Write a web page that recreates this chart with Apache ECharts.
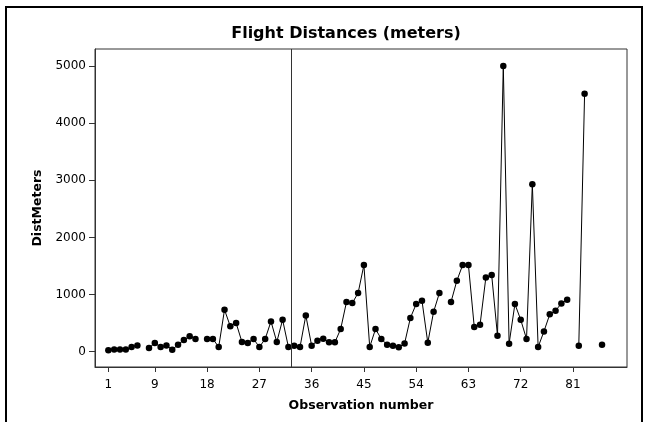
<!DOCTYPE html>
<html>
<head>
<meta charset="utf-8">
<script src="https://cdn.jsdelivr.net/npm/echarts@6/dist/echarts.min.js"></script>
<style>
  html, body { margin: 0; padding: 0; background: #fff; }
  #chart { width: 647px; height: 422px; }
</style>
</head>
<body>
<div id="chart"></div>
<script>
// observation numbers 1..86, null = missing value
const distMeters = [
  23, 40, 40, 40, 82, 110, null, 65, 152, 82,
  110, 35, 122, 204, 268, 222, null, 222, 222, 82,
  734, 443, 501, 170, 152, 222, 82, 222, 530, 170,
  559, 82, 105, 82, 635, 105, 192, 227, 163, 163,
  397, 869, 851, 1026, 1516, 82, 397, 222, 122, 105,
  78, 142, 590, 834, 892, 157, 697, 1028, null, 870,
  1241, 1516, 1516, 431, 472, 1299, 1343, 280, 5000, 140,
  834, 559, 222, 2932, 82, 355, 653, 717, 845, 909,
  null, 105, 4516, null, null, 122
];
const xTicks = [1, 9, 18, 27, 36, 45, 54, 63, 72, 81];
const yTicks = [0, 1000, 2000, 3000, 4000, 5000];
const refLineX = 32.5;

const points = distMeters.map((v, i) => [i + 1, v]);

const chart = echarts.init(document.getElementById('chart'));
const font = 'DejaVu Sans';

chart.setOption({
  animation: false,
  backgroundColor: '#fff',
  title: {
    text: 'Flight Distances (meters)',
    left: 341,
    textAlign: 'center',
    top: 21,
    textStyle: { fontFamily: font, fontSize: 16, fontWeight: 'bold', color: '#000' }
  },
  graphic: [{
    type: 'rect',
    shape: { x: 6, y: 7, width: 636, height: 440 },
    style: { fill: 'none', stroke: '#000', lineWidth: 2 }
  }],
  grid: {
    left: 95, right: 20, top: 49, bottom: 55,
    show: true, borderColor: '#333', borderWidth: 1
  },
  xAxis: {
    type: 'value',
    min: -1.3,
    max: 90.3,
    name: 'Observation number',
    nameLocation: 'middle',
    nameGap: 32,
    nameTextStyle: { fontFamily: font, fontSize: 12.5, fontWeight: 'bold', color: '#000' },
    axisLine: { show: true, onZero: false, lineStyle: { color: '#333' } },
    axisTick: { show: true, length: 5, customValues: xTicks, lineStyle: { color: '#333' } },
    axisLabel: { customValues: xTicks, fontFamily: font, fontSize: 12, color: '#000', margin: 12 },
    splitLine: { show: false }
  },
  yAxis: {
    type: 'value',
    min: -268,
    max: 5297,
    name: 'DistMeters',
    nameLocation: 'middle',
    nameGap: 50,
    nameTextStyle: { fontFamily: font, fontSize: 12.5, fontWeight: 'bold', color: '#000' },
    axisLine: { show: true, onZero: false, lineStyle: { color: '#333' } },
    axisTick: { show: true, length: 6, customValues: yTicks, lineStyle: { color: '#333' } },
    axisLabel: {
      customValues: yTicks, fontFamily: font, fontSize: 12, color: '#000', margin: 9,
      formatter: v => String(v)
    },
    splitLine: { show: false }
  },
  series: [{
    type: 'line',
    data: points,
    connectNulls: false,
    symbol: 'circle',
    symbolSize: 6.5,
    itemStyle: { color: '#000' },
    lineStyle: { color: '#000', width: 1 },
    markLine: {
      silent: true,
      symbol: 'none',
      label: { show: false },
      lineStyle: { color: '#333', width: 1, type: 'solid' },
      data: [{ xAxis: refLineX }]
    }
  }]
});
</script>
</body>
</html>
